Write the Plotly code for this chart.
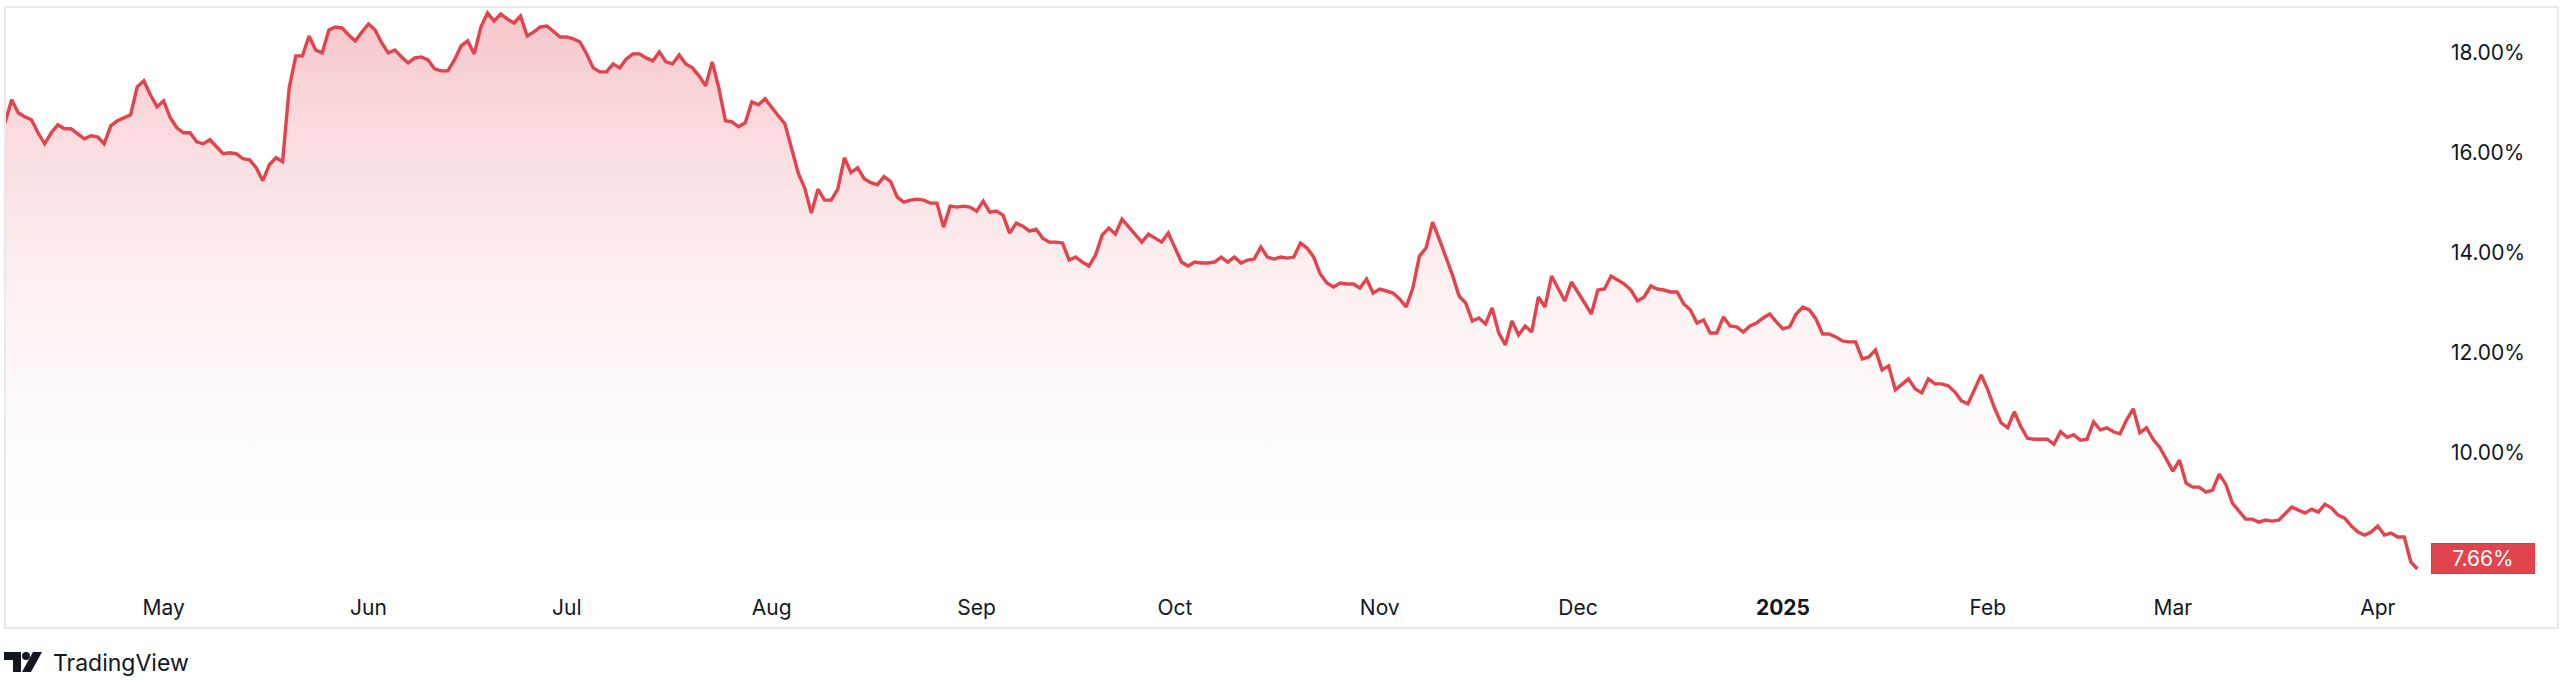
import pandas as pd
import plotly.graph_objects as go

# ---------------- data (daily values, %) ----------------
apr_2024 = [16.60, 17.06, 16.80, 16.72, 16.66, 16.40, 16.18, 16.40, 16.56, 16.48,
            16.48, 16.38, 16.28, 16.34, 16.32, 16.18, 16.54, 16.64, 16.70, 16.76,
            17.32, 17.44, 17.16, 16.92]
may_2024 = [17.04, 16.70, 16.50, 16.40, 16.40, 16.22, 16.18, 16.26, 16.12, 15.98,
            16.00, 15.98, 15.88, 15.86, 15.70, 15.44, 15.76, 15.90, 15.82, 17.30,
            17.94, 17.94, 18.34, 18.06, 18.00, 18.46, 18.52, 18.50, 18.36, 18.24, 18.42]
jun_2024 = [18.58, 18.46, 18.20, 18.00, 18.06, 17.92, 17.80, 17.90, 17.92, 17.86,
            17.68, 17.64, 17.64, 17.86, 18.14, 18.24, 17.98, 18.52, 18.80, 18.64,
            18.78, 18.68, 18.60, 18.74, 18.34, 18.42, 18.52, 18.54, 18.44, 18.32]
jul_2024 = [18.32, 18.28, 18.22, 17.98, 17.70, 17.62, 17.62, 17.78, 17.70, 17.88,
            17.98, 17.98, 17.90, 17.84, 18.02, 17.82, 17.78, 17.96, 17.78, 17.70,
            17.54, 17.34, 17.82, 17.30, 16.64, 16.62, 16.52, 16.60, 17.02, 16.96, 17.08]
aug_2024 = [16.90, 16.74, 16.58, 16.10, 15.60, 15.29, 14.79, 15.27, 15.05, 15.05,
            15.27, 15.90, 15.60, 15.70, 15.48, 15.40, 15.36, 15.52, 15.42, 15.11,
            15.01, 15.05, 15.07, 15.05, 14.99, 14.99, 14.51, 14.93, 14.91, 14.93, 14.91]
sep_2024 = [14.83, 15.03, 14.81, 14.83, 14.75, 14.39, 14.59, 14.53, 14.43, 14.47,
            14.29, 14.21, 14.21, 14.19, 13.85, 13.91, 13.81, 13.73, 13.95, 14.35,
            14.49, 14.37, 14.67, 14.51, 14.37, 14.21, 14.37, 14.29, 14.21, 14.39]
oct_2024 = [14.11, 13.81, 13.73, 13.81, 13.79, 13.79, 13.81, 13.91, 13.81, 13.91,
            13.79, 13.85, 13.87, 14.11, 13.91, 13.87, 13.91, 13.89, 13.91, 14.19,
            14.09, 13.91, 13.57, 13.39, 13.31, 13.39, 13.37, 13.37, 13.29, 13.47, 13.19]
nov_2024 = [13.27, 13.23, 13.19, 13.07, 12.91, 13.29, 13.93, 14.09, 14.61, 14.27,
            13.91, 13.55, 13.13, 12.99, 12.63, 12.69, 12.57, 12.89, 12.39, 12.15,
            12.63, 12.35, 12.53, 12.41, 13.11, 12.91, 13.53, 13.29, 13.03, 13.41]
dec_2024 = [13.21, 12.99, 12.77, 13.25, 13.27, 13.53, 13.45, 13.37, 13.25, 13.03,
            13.11, 13.33, 13.27, 13.25, 13.21, 13.21, 12.97, 12.85, 12.59, 12.65,
            12.39, 12.39, 12.71, 12.53, 12.51, 12.41, 12.53, 12.59, 12.69, 12.77, 12.61]
jan_2025 = [12.47, 12.51, 12.77, 12.91, 12.85, 12.67, 12.37, 12.37, 12.31, 12.23,
            12.21, 12.21, 11.87, 11.91, 12.05, 11.65, 11.73, 11.25, 11.35, 11.47,
            11.27, 11.19, 11.47, 11.37, 11.37, 11.33, 11.21, 11.03, 10.97, 11.25, 11.55]
feb_2025 = [11.25, 10.89, 10.59, 10.49, 10.81, 10.51, 10.28, 10.26, 10.26, 10.26,
            10.16, 10.41, 10.30, 10.35, 10.24, 10.26, 10.61, 10.45, 10.49, 10.41,
            10.37, 10.65, 10.87, 10.39, 10.49, 10.26, 10.10, 9.86]
mar_2025 = [9.62, 9.84, 9.38, 9.30, 9.30, 9.20, 9.24, 9.56, 9.36, 8.98,
            8.82, 8.66, 8.66, 8.60, 8.64, 8.62, 8.64, 8.78, 8.90, 8.84,
            8.78, 8.86, 8.80, 8.96, 8.88, 8.74, 8.68, 8.52, 8.40, 8.34, 8.40]
apr_2025 = [8.52, 8.34, 8.38, 8.30, 8.30, 7.80, 7.66]

first_date = "2024-04-07"
month_ticks = ["2024-05-01", "2024-06-01", "2024-07-01", "2024-08-01", "2024-09-01",
               "2024-10-01", "2024-11-01", "2024-12-01", "2025-01-01", "2025-02-01",
               "2025-03-01", "2025-04-01"]
month_labels = ["May", "Jun", "Jul", "Aug", "Sep", "Oct", "Nov", "Dec", "<b>2025</b>",
                "Feb", "Mar", "Apr"]
y_ticks = [8, 10, 12, 14, 16, 18]
y_labels = ["8.00%", "10.00%", "12.00%", "14.00%", "16.00%", "18.00%"]
last_value_label = "7.66%"

values = (apr_2024 + may_2024 + jun_2024 + jul_2024 + aug_2024 + sep_2024 + oct_2024
          + nov_2024 + dec_2024 + jan_2025 + feb_2025 + mar_2025 + apr_2025)
dates = pd.date_range(first_date, periods=len(values), freq="D")

# ---------------- styling / layout ----------------
W, H = 2560, 685
L, R, T, B = 5, 2430, 7, 580          # plot-area pixel box
Y_MIN, Y_MAX = 7.44, 18.92
LINE = "#e2434d"
TEXT = "#131722"
FONT = "Inter"


def px(x):
    return (x - L) / (R - L)


def py(y):
    return (B - y) / (B - T)


fig = go.Figure()
fig.add_trace(go.Scatter(
    x=dates, y=values, mode="lines",
    line=dict(color=LINE, width=3.4),
    fill="tozeroy",
    fillgradient=dict(type="vertical",
                      colorscale=[[0, "rgba(255,255,255,0)"], [1, "rgba(226,72,84,0.32)"]],
                      start=Y_MIN, stop=Y_MAX),
    hoverinfo="skip", showlegend=False,
))

x_end = pd.Timestamp(first_date) + pd.Timedelta(days=366.9)

fig.update_layout(
    width=W, height=H,
    margin=dict(l=L, r=W - R, t=T, b=H - B),
    paper_bgcolor="white", plot_bgcolor="white",
    font=dict(family=FONT, color=TEXT, size=21),
    xaxis=dict(range=[pd.Timestamp(first_date), x_end], tickmode="array",
               tickvals=month_ticks, ticktext=month_labels, showgrid=False,
               zeroline=False, showline=False, ticks="outside", ticklen=9,
               tickcolor="rgba(0,0,0,0)", tickfont=dict(size=21, color=TEXT)),
    yaxis=dict(range=[Y_MIN, Y_MAX], side="right", tickmode="array",
               tickvals=y_ticks, ticktext=y_labels, showgrid=False, zeroline=False,
               showline=False, ticks="", ticklabelstandoff=20,
               tickfont=dict(size=21, color=TEXT)),
)

# outer frame around pane + scales
fig.add_shape(type="rect", xref="paper", yref="paper",
              x0=px(5), x1=px(2558), y0=py(628), y1=py(7),
              line=dict(color="#e9e9ec", width=2), fillcolor="rgba(0,0,0,0)",
              layer="above")

# last value label on the price scale
fig.add_annotation(xref="paper", yref="y", x=px(2483), y=values[-1], yshift=11,
                   text=last_value_label, showarrow=False, xanchor="center",
                   yanchor="middle", width=100, height=27, bgcolor="#e0444d",
                   bordercolor="#d83c45", borderwidth=1, borderpad=1,
                   font=dict(family=FONT, size=21, color="white"))

# TradingView logo (approximate) + wordmark
fig.add_shape(type="path", xref="paper", yref="paper",
              path=(f"M{px(4)},{py(652)} L{px(21)},{py(652)} L{px(21)},{py(672)} "
                    f"L{px(13)},{py(672)} L{px(13)},{py(660)} L{px(4)},{py(660)} Z"),
              fillcolor="#131722", line=dict(width=0))
fig.add_shape(type="circle", xref="paper", yref="paper",
              x0=px(22), x1=px(30), y0=py(660), y1=py(652),
              fillcolor="#131722", line=dict(width=0))
fig.add_shape(type="path", xref="paper", yref="paper",
              path=(f"M{px(33)},{py(652)} L{px(42)},{py(652)} L{px(31)},{py(672)} "
                    f"L{px(22)},{py(672)} Z"),
              fillcolor="#131722", line=dict(width=0))
fig.add_annotation(xref="paper", yref="paper", x=px(51), y=py(663), text="TradingView",
                   showarrow=False, xanchor="left", yanchor="middle",
                   font=dict(family=FONT, size=23, color=TEXT))

fig.write_html("out.html",
               config={"displayModeBar": False, "staticPlot": True},
               post_script="document.body.style.margin='0';"
                           "document.body.style.overflow='hidden';")
